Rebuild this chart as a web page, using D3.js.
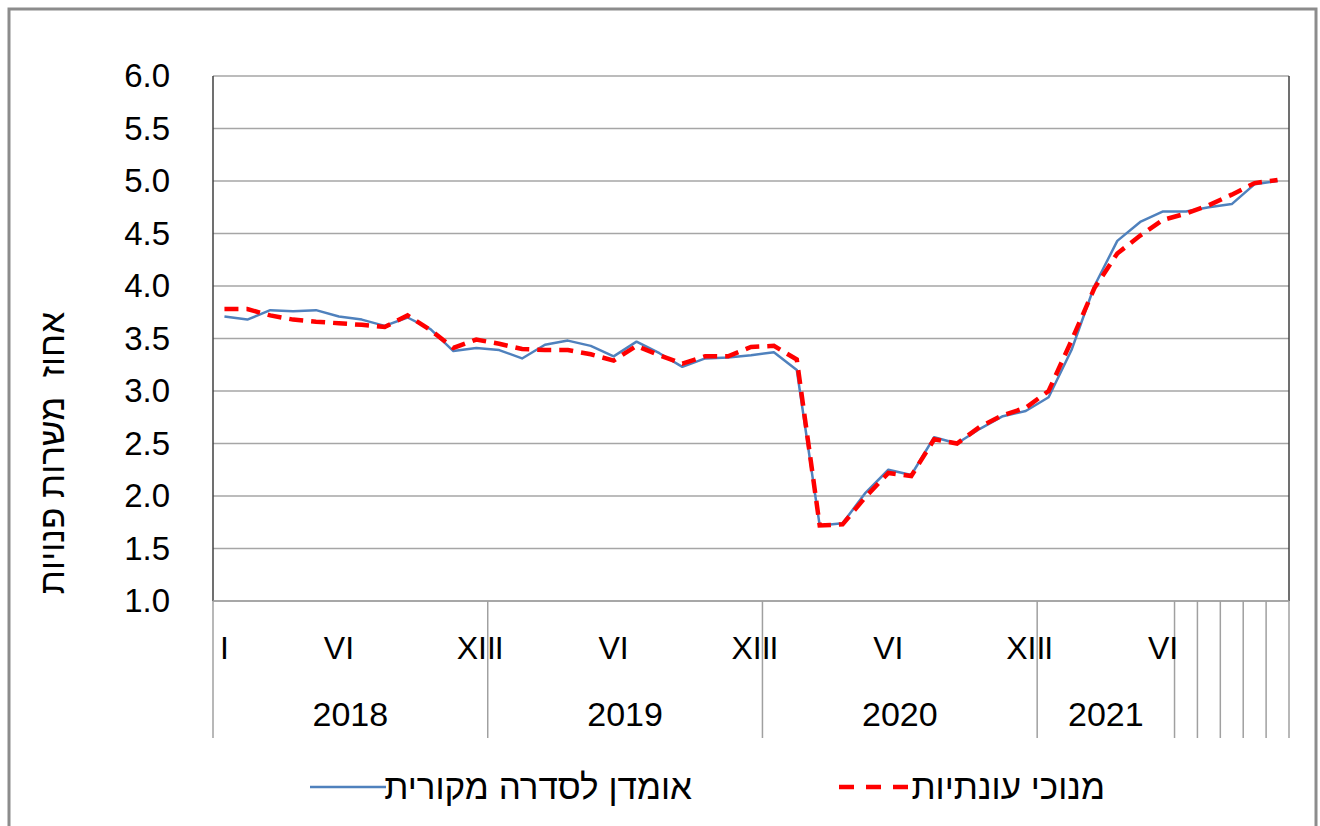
<!DOCTYPE html>
<html>
<head>
<meta charset="utf-8">
<script src="https://cdn.jsdelivr.net/npm/d3@7"></script>
<style>
  body { margin: 0; background: #fff; }
  svg { display: block; font-family: "Liberation Sans", Arial, sans-serif; }
</style>
</head>
<body>
<svg id="chart" width="1320" height="826"></svg>
<script>
// Data
//---------
var years = ["2018", "2019", "2020", "2021"];
var monthNames = ["I","II","III","IV","V","VI","VII","VIII","IX","X","XI","XII"];
var monthsPerYear = [12, 12, 12, 11];
var shownMonths = ["I", "VI", "XII"];

// אומדן לסדרה מקורית
var original = [
  3.71, 3.68, 3.77, 3.76, 3.77, 3.71, 3.68, 3.62, 3.70, 3.59, 3.38, 3.41,
  3.39, 3.31, 3.44, 3.48, 3.43, 3.33, 3.47, 3.36, 3.23, 3.31, 3.32, 3.34,
  3.37, 3.20, 1.72, 1.74, 2.03, 2.25, 2.20, 2.56, 2.50, 2.64, 2.76, 2.81,
  2.94, 3.39, 4.00, 4.43, 4.61, 4.71, 4.71, 4.75, 4.78, 4.97, 5.00
];
// מנוכי עונתיות
var seasonal = [
  3.78, 3.78, 3.72, 3.68, 3.66, 3.645, 3.63, 3.61, 3.72, 3.58, 3.41, 3.49,
  3.45, 3.40, 3.39, 3.39, 3.35, 3.29, 3.43, 3.34, 3.26, 3.33, 3.33, 3.42,
  3.43, 3.30, 1.72, 1.73, 1.99, 2.22, 2.19, 2.54, 2.50, 2.66, 2.77, 2.84,
  3.00, 3.48, 3.98, 4.31, 4.48, 4.63, 4.69, 4.77, 4.87, 4.98, 5.01
];
var yTicks = [1.0, 1.5, 2.0, 2.5, 3.0, 3.5, 4.0, 4.5, 5.0, 5.5, 6.0];

var seriesNames = ["אומדן לסדרה מקורית", "מנוכי עונתיות"];
var yTitle = "אחוז  משרות פנויות";

// build categories (year + month)
var cats = [];
years.forEach(function(yr, yi) {
  for (var m = 0; m < monthsPerYear[yi]; m++) {
    cats.push({ key: yr + "-" + (m + 1), year: yr, month: monthNames[m], mi: m });
  }
});

(function() {
  // Layout
  //---------
  var plotL = 213, plotR = 1289, plotT = 76, plotB = 601;
  var svg = d3.select("#chart");

  // outer frame
  svg.append("rect")
    .attr("x", 9).attr("y", 9).attr("width", 1307).attr("height", 840)
    .attr("fill", "none").attr("stroke", "#8c8c8c").attr("stroke-width", 3);

  var x = d3.scaleBand().domain(cats.map(function(c) { return c.key; }))
    .range([plotL, plotR]).paddingInner(0).paddingOuter(0);
  var y = d3.scaleLinear().domain([1, 6]).range([plotB, plotT]);
  var cx = function(i) { return x(cats[i].key) + x.bandwidth() / 2; };

  // gridlines
  svg.append("g").selectAll("line").data(yTicks).join("line")
    .attr("x1", plotL).attr("x2", plotR)
    .attr("y1", function(d) { return y(d); }).attr("y2", function(d) { return y(d); })
    .attr("stroke", "#a6a6a6").attr("stroke-width", 1.5);

  // y axis labels
  var yAxis = d3.axisLeft(y).tickValues(yTicks).tickFormat(d3.format(".1f")).tickSize(0).tickPadding(43);
  var gy = svg.append("g").attr("transform", "translate(" + plotL + ",0)").call(yAxis);
  gy.select(".domain").remove();
  gy.selectAll("text").attr("font-size", 33).attr("fill", "#000")
    .attr("font-family", "Liberation Sans, Arial, sans-serif");

  // plot frame sides
  svg.append("line").attr("x1", plotL).attr("x2", plotL).attr("y1", plotT).attr("y2", plotB)
    .attr("stroke", "#404040").attr("stroke-width", 1.5);
  svg.append("line").attr("x1", plotR).attr("x2", plotR).attr("y1", plotT).attr("y2", plotB)
    .attr("stroke", "#404040").attr("stroke-width", 1.5);

  // category axis: group boundaries
  var axisBottom = 738;
  var bounds = [plotL];
  var yearGroups = [];
  var start = 0;
  years.forEach(function(yr, yi) {
    var n = monthsPerYear[yi];
    if (n === 12) {
      yearGroups.push({ year: yr, a: start, b: start + 12 });
      bounds.push(x(cats[start + 11].key) + x.bandwidth());
    } else {
      // partial year: labelled group for I-VI, then single empty months
      yearGroups.push({ year: yr, a: start, b: start + 6 });
      for (var k = 6; k <= n; k++) {
        bounds.push(x(cats[start + k - 1].key) + x.bandwidth());
      }
    }
    start += n;
  });

  svg.append("g").selectAll("line").data(bounds).join("line")
    .attr("x1", function(d) { return d; }).attr("x2", function(d) { return d; })
    .attr("y1", plotB).attr("y2", axisBottom)
    .attr("stroke", "#a0a0a0").attr("stroke-width", 1.5);

  svg.append("line").attr("x1", plotL).attr("x2", plotR).attr("y1", plotB).attr("y2", plotB)
    .attr("stroke", "#a0a0a0").attr("stroke-width", 1.5);

  // month labels
  svg.append("g").selectAll("text")
    .data(cats.filter(function(c) { return shownMonths.indexOf(c.month) >= 0; }))
    .join("text")
    .attr("x", function(c) { return x(c.key) + x.bandwidth() / 2; })
    .attr("y", 659)
    .attr("text-anchor", "middle")
    .attr("font-size", 32)
    .text(function(c) { return c.month; });

  // year labels
  svg.append("g").selectAll("text").data(yearGroups).join("text")
    .attr("x", function(g) { return (x(cats[g.a].key) + x(cats[g.b - 1].key) + x.bandwidth()) / 2; })
    .attr("y", 726)
    .attr("text-anchor", "middle")
    .attr("font-size", 34)
    .text(function(g) { return g.year; });

  // y title
  svg.append("text")
    .attr("transform", "translate(64,453) rotate(-90)")
    .attr("text-anchor", "middle")
    .attr("font-size", 35)
    .style("white-space", "pre")
    .text(yTitle);

  // Lines
  //---------
  var line = d3.line().x(function(d, i) { return cx(i); }).y(function(d) { return y(d); });

  svg.append("path").datum(original)
    .attr("d", line).attr("fill", "none")
    .attr("stroke", "#4f81bd").attr("stroke-width", 2.5).attr("stroke-linejoin", "round");

  svg.append("path").datum(seasonal)
    .attr("d", line).attr("fill", "none")
    .attr("stroke", "#ff0000").attr("stroke-width", 4.5)
    .attr("stroke-dasharray", "14,8");

  // Legend
  //---------
  var leg = svg.append("g");
  leg.append("line").attr("x1", 310).attr("x2", 386).attr("y1", 787).attr("y2", 787)
    .attr("stroke", "#4f81bd").attr("stroke-width", 2.5);
  leg.append("text").attr("x", 692).attr("y", 799).attr("text-anchor", "end")
    .attr("font-size", 35).text(seriesNames[0]);
  leg.append("line").attr("x1", 839).attr("x2", 908).attr("y1", 787).attr("y2", 787)
    .attr("stroke", "#ff0000").attr("stroke-width", 4.5).attr("stroke-dasharray", "15,12");
  leg.append("text").attr("x", 1105).attr("y", 799).attr("text-anchor", "end")
    .attr("font-size", 35).text(seriesNames[1]);
})();
</script>
</body>
</html>
